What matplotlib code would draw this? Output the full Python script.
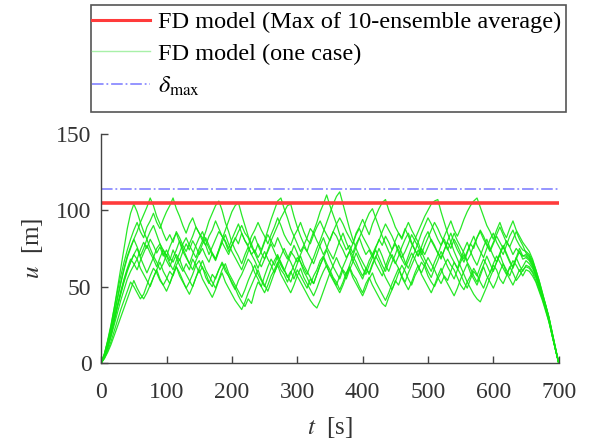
import numpy as np
import matplotlib
matplotlib.use("Agg")
from matplotlib import pyplot as plt
from matplotlib.patches import Rectangle

# time axis (s), one sample every 5 s
t = np.arange(0, 701, 5)

# ten ensemble cases (values in m)
case01 = [0, 4, 10, 18, 27, 37, 46, 54, 61, 66,
          71, 68, 74, 79, 75, 81, 77, 72, 76, 70,
          74, 69, 66, 71, 67, 73, 78, 74, 80, 76,
          71, 75, 70, 66, 72, 68, 74, 79, 75, 71,
          77, 82, 78, 85, 80, 76, 71, 74, 69, 73,
          79, 84, 80, 76, 82, 77, 72, 68, 73, 70,
          66, 71, 76, 73, 80, 86, 92, 99, 104, 110,
          103, 97, 91, 84, 79, 74, 77, 72, 78, 82,
          76, 71, 74, 69, 75, 81, 77, 83, 79, 74,
          80, 85, 82, 88, 83, 78, 74, 70, 75, 71,
          76, 81, 77, 72, 69, 74, 79, 75, 81, 77,
          72, 68, 73, 78, 75, 82, 86, 81, 77, 73,
          78, 83, 79, 75, 80, 76, 71, 75, 72, 70,
          71, 69, 65, 58, 51, 44, 37, 29, 19, 9, 0]
case02 = [0, 6, 14, 24, 36, 49, 62, 75, 88, 98,
          104, 99, 92, 86, 81, 75, 70, 66, 61, 65,
          71, 67, 74, 69, 64, 60, 65, 61, 68, 64,
          59, 63, 56, 52, 58, 55, 61, 66, 62, 57,
          53, 49, 44, 40, 37, 42, 39, 47, 53, 50,
          57, 63, 68, 64, 70, 66, 61, 56, 60, 55,
          61, 57, 53, 49, 55, 52, 58, 64, 69, 74,
          68, 63, 59, 55, 61, 58, 64, 70, 66, 61,
          57, 62, 59, 65, 70, 66, 61, 56, 52, 48,
          54, 51, 57, 62, 67, 72, 68, 63, 59, 64,
          69, 65, 61, 56, 52, 57, 54, 60, 66, 62,
          58, 53, 49, 55, 60, 57, 63, 68, 64, 59,
          65, 70, 66, 62, 58, 62, 67, 64, 60, 63,
          67, 65, 62, 57, 50, 43, 36, 28, 18, 9, 0]
case03 = [0, 5, 12, 21, 31, 42, 52, 61, 69, 75,
          81, 86, 92, 97, 102, 108, 103, 96, 91, 85,
          80, 84, 79, 86, 82, 77, 73, 78, 83, 89,
          85, 80, 77, 71, 76, 81, 86, 83, 79, 73,
          77, 81, 86, 90, 85, 82, 76, 72, 78, 74,
          80, 87, 94, 100, 106, 108, 101, 95, 88, 83,
          78, 73, 77, 82, 88, 85, 80, 76, 71, 75,
          81, 86, 83, 78, 74, 69, 73, 78, 84, 88,
          83, 79, 75, 71, 76, 80, 86, 91, 87, 83,
          78, 74, 69, 73, 78, 84, 80, 76, 71, 77,
          82, 87, 92, 88, 83, 79, 74, 79, 85, 80,
          76, 72, 67, 71, 77, 82, 87, 83, 78, 74,
          79, 84, 89, 84, 79, 76, 81, 86, 81, 77,
          72, 70, 66, 60, 53, 45, 38, 30, 20, 10, 0]
case04 = [0, 3, 8, 14, 21, 28, 35, 41, 47, 53,
          50, 46, 42, 45, 51, 57, 62, 59, 54, 51,
          55, 60, 57, 63, 59, 54, 49, 53, 58, 64,
          67, 62, 59, 53, 50, 56, 61, 65, 60, 57,
          52, 48, 54, 58, 63, 68, 65, 59, 55, 50,
          46, 51, 57, 61, 66, 61, 58, 53, 59, 64,
          69, 66, 60, 56, 51, 57, 61, 67, 70, 65,
          61, 56, 53, 48, 53, 59, 63, 58, 55, 50,
          46, 52, 56, 51, 47, 43, 39, 37, 43, 48,
          53, 59, 64, 60, 55, 51, 57, 61, 66, 63,
          57, 53, 50, 55, 59, 64, 68, 64, 61, 56,
          51, 48, 53, 57, 62, 58, 53, 49, 55, 59,
          64, 61, 55, 52, 57, 63, 59, 54, 57, 61,
          63, 62, 59, 54, 48, 42, 35, 27, 18, 9, 0]
case05 = [0, 6, 15, 25, 36, 47, 57, 66, 74, 81,
          87, 92, 86, 82, 89, 93, 98, 92, 88, 94,
          99, 103, 108, 101, 96, 90, 85, 91, 95, 89,
          85, 82, 77, 83, 87, 93, 88, 83, 80, 75,
          81, 86, 91, 85, 80, 77, 83, 87, 92, 87,
          83, 78, 84, 89, 95, 90, 84, 80, 77, 83,
          87, 92, 86, 81, 78, 84, 89, 93, 88, 84,
          80, 86, 91, 95, 91, 86, 82, 78, 85, 89,
          94, 89, 84, 91, 96, 101, 105, 107, 100, 95,
          89, 85, 81, 87, 92, 87, 83, 79, 85, 90,
          95, 91, 86, 81, 77, 83, 88, 93, 87, 83,
          88, 94, 99, 103, 106, 108, 102, 96, 90, 86,
          81, 87, 92, 86, 82, 88, 93, 87, 83, 79,
          76, 73, 68, 61, 54, 46, 38, 30, 20, 10, 0]
case06 = [0, 5, 12, 20, 29, 38, 47, 55, 62, 68,
          65, 61, 67, 72, 77, 72, 68, 63, 69, 74,
          70, 65, 61, 67, 72, 78, 82, 77, 73, 69,
          75, 80, 86, 93, 98, 103, 106, 100, 92, 86,
          79, 74, 70, 65, 71, 76, 71, 67, 62, 68,
          73, 68, 64, 59, 65, 70, 75, 70, 66, 61,
          57, 53, 49, 45, 41, 38, 36, 41, 47, 53,
          59, 64, 69, 64, 60, 55, 61, 66, 72, 67,
          62, 58, 64, 69, 74, 69, 64, 60, 66, 71,
          66, 62, 57, 53, 59, 64, 69, 74, 69, 65,
          60, 56, 62, 67, 73, 68, 63, 59, 55, 61,
          66, 71, 66, 62, 57, 53, 59, 64, 70, 65,
          60, 66, 71, 76, 71, 66, 62, 68, 73, 68,
          69, 67, 63, 58, 51, 44, 37, 29, 19, 9, 0]
case07 = [0, 4, 11, 19, 28, 37, 45, 53, 60, 66,
          71, 75, 69, 64, 59, 64, 69, 75, 78, 72,
          67, 63, 69, 74, 80, 75, 70, 65, 61, 67,
          72, 78, 82, 77, 72, 68, 74, 81, 87, 93,
          99, 103, 105, 97, 90, 83, 78, 72, 67, 63,
          68, 73, 78, 73, 68, 64, 60, 66, 71, 77,
          72, 66, 62, 58, 64, 69, 75, 80, 86, 92,
          98, 104, 109, 112, 104, 96, 88, 81, 75, 70,
          66, 62, 58, 64, 69, 75, 70, 64, 60, 66,
          71, 77, 72, 66, 62, 68, 73, 79, 73, 68,
          64, 60, 66, 71, 77, 81, 75, 70, 66, 62,
          68, 74, 79, 73, 68, 64, 70, 76, 81, 75,
          70, 66, 72, 77, 72, 67, 63, 69, 75, 70,
          70, 68, 64, 58, 51, 44, 37, 29, 19, 9, 0]
case08 = [0, 4, 10, 17, 25, 33, 41, 48, 55, 60,
          64, 68, 62, 58, 54, 50, 56, 61, 66, 60,
          56, 52, 58, 64, 68, 62, 58, 54, 50, 56,
          62, 67, 61, 57, 53, 49, 55, 61, 65, 59,
          55, 51, 47, 43, 48, 54, 59, 64, 58, 54,
          50, 56, 62, 67, 71, 65, 61, 57, 53, 59,
          65, 70, 64, 60, 56, 52, 58, 64, 69, 63,
          59, 55, 51, 57, 63, 68, 73, 67, 63, 59,
          55, 61, 67, 71, 65, 61, 57, 63, 69, 74,
          78, 72, 68, 64, 70, 76, 81, 86, 91, 96,
          100, 104, 106, 107, 99, 92, 85, 79, 73, 68,
          63, 58, 53, 49, 45, 42, 40, 45, 50, 56,
          61, 66, 71, 65, 61, 57, 63, 69, 64, 60,
          64, 63, 60, 56, 50, 43, 36, 28, 18, 9, 0]
case09 = [0, 6, 14, 23, 33, 43, 53, 62, 70, 76,
          81, 76, 70, 75, 81, 86, 90, 84, 78, 74,
          70, 76, 81, 85, 79, 73, 69, 65, 71, 77,
          82, 86, 80, 75, 71, 67, 73, 79, 84, 78,
          73, 69, 65, 61, 67, 73, 78, 83, 77, 72,
          68, 74, 80, 85, 90, 95, 99, 103, 104, 96,
          89, 83, 78, 73, 69, 65, 71, 77, 82, 76,
          72, 68, 74, 80, 85, 79, 74, 70, 76, 82,
          87, 93, 98, 101, 95, 89, 83, 78, 73, 69,
          65, 70, 76, 81, 85, 79, 74, 70, 76, 82,
          86, 80, 76, 72, 68, 74, 80, 85, 79, 74,
          70, 66, 72, 78, 83, 77, 73, 69, 75, 81,
          85, 79, 75, 71, 77, 83, 87, 81, 77, 74,
          73, 71, 67, 61, 54, 46, 38, 30, 20, 10, 0]
case10 = [0, 3, 7, 12, 18, 24, 30, 36, 42, 48,
          54, 49, 45, 42, 46, 51, 56, 61, 55, 51,
          47, 52, 58, 63, 57, 53, 49, 45, 50, 56,
          61, 55, 51, 47, 43, 48, 54, 59, 53, 49,
          45, 41, 38, 35, 40, 46, 51, 56, 61, 55,
          51, 47, 53, 59, 64, 58, 54, 50, 46, 51,
          57, 62, 56, 52, 48, 44, 49, 55, 60, 64,
          58, 54, 50, 46, 51, 57, 62, 56, 52, 48,
          44, 49, 55, 59, 53, 49, 45, 41, 46, 52,
          57, 62, 56, 52, 48, 53, 59, 64, 58, 54,
          50, 46, 51, 57, 62, 56, 52, 48, 44, 49,
          55, 60, 65, 59, 55, 51, 57, 63, 57, 53,
          49, 54, 60, 65, 59, 55, 51, 56, 61, 57,
          61, 60, 57, 53, 47, 41, 34, 27, 18, 9, 0]

cases = [case01, case02, case03, case04, case05,
         case06, case07, case08, case09, case10]

ens_max = 105.0     # max of 10-ensemble average
delta_max = 114.0

plt.rcParams['font.family'] = ['Liberation Serif', 'DejaVu Serif']
plt.rcParams['mathtext.fontset'] = 'stix'

W, H = 595, 446
fig = plt.figure(figsize=(W / 100, H / 100), dpi=100)
ax = fig.add_axes([0.170, 0.186, 0.769, 0.514])

green = '#10e610'
for c in cases:
    ax.plot(t, c, color=green, lw=0.9, alpha=0.9)

l_red, = ax.plot([0, 700], [ens_max, ens_max], color='#ff3b3b', lw=2.6)
l_blue, = ax.plot([0, 700], [delta_max, delta_max], color='#8c8cff', lw=1.3,
                  ls='-.')
l_green = ax.lines[0]

ax.set_xlim(0, 700)
ax.set_ylim(0, 150)
ax.set_xticks(range(0, 701, 100))
ax.set_yticks([0, 50, 100, 150])
for s in ['top', 'right']:
    ax.spines[s].set_visible(False)
for s in ['left', 'bottom']:
    ax.spines[s].set_color('#444444')
    ax.spines[s].set_linewidth(1.0)
ax.tick_params(direction='in', length=5, width=1, color='#444444',
               labelsize=17, labelcolor='#333333', pad=7)
ax.tick_params(axis='x', pad=14)

ax.set_xlabel(r'$t$  [s]', fontsize=18, color='#333333', labelpad=8)
ax.set_ylabel(r'$u$  [m]', fontsize=18, color='#333333', labelpad=8)

# legend without its own frame, the box is drawn separately
labels = ['FD model (Max of 10-ensemble average)', 'FD model (one case)',
          r'$\delta_{\mathrm{max}}$']
leg = fig.legend([l_red, l_green, l_blue], labels,
                 loc='upper left', bbox_to_anchor=(92 / W, 1 - 11 / H),
                 fontsize=17.5, frameon=False, handlelength=2.4,
                 handletextpad=0.3, borderpad=0, labelspacing=0.4,
                 borderaxespad=0)
hl = leg.get_lines()
hl[0].set_linewidth(2.2)
hl[1].set_color('#a8f0a8')
hl[1].set_alpha(1)
hl[1].set_linewidth(1.0)

fig.patches.append(Rectangle((91 / W, 1 - 112 / H), 475 / W, 107 / H,
                             transform=fig.transFigure, fill=False,
                             edgecolor='#555555', linewidth=1.2))

fig.savefig('out.png', dpi=100)
